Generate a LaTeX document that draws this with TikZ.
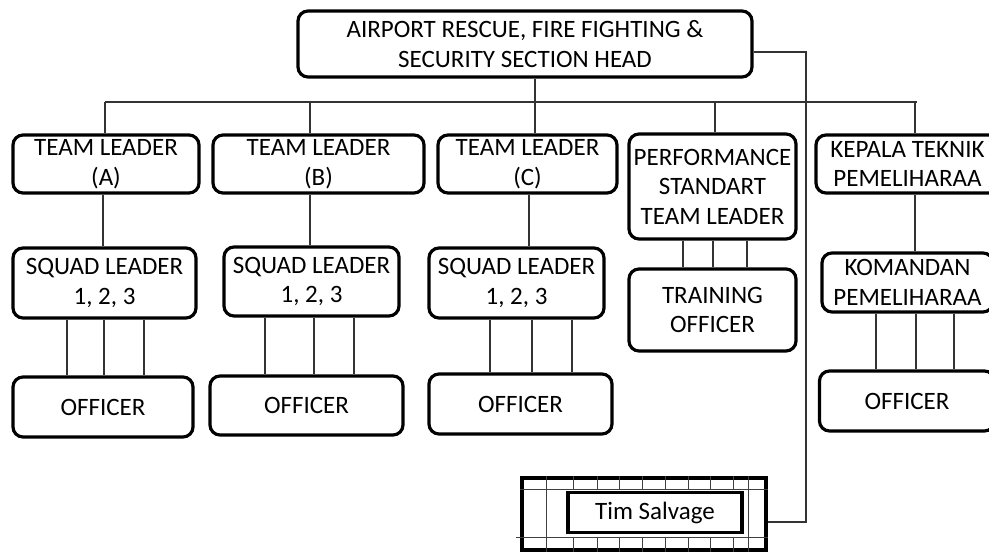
\documentclass[tikz,border=0pt]{standalone}
\usepackage{fontspec}
\setmainfont{Carlito}
\usetikzlibrary{positioning}

\begin{document}
\begin{tikzpicture}[x=1pt, y=-1pt,
    box/.style={draw, line width=3.2pt, rounded corners=10pt, align=center, inner sep=0pt,
        font=\fontsize{25}{29.5}\selectfont},
    link/.style={line width=1.2pt, black!80},
    grid/.style={line width=1pt, black!75}]
    \useasboundingbox (0,0) rectangle (989,552);
    \clip (0,0) rectangle (989,552);

    \node[box, minimum width=454pt, minimum height=66pt] (head) at (525,44) {AIRPORT RESCUE, FIRE FIGHTING \&\\SECURITY SECTION HEAD};

    \node[box, minimum width=186pt, minimum height=58pt] (tl_A) at (106,164) {TEAM LEADER\\(A)};
    \node[box, minimum width=211pt, minimum height=58pt] (tl_B) at (318.5,164) {TEAM LEADER\\(B)};
    \node[box, minimum width=179pt, minimum height=58pt] (tl_C) at (527.5,164) {TEAM LEADER\\(C)};
    \node[box, minimum width=167pt, minimum height=105pt] (perf) at (712.5,186.5) {PERFORMANCE\\STANDART\\TEAM LEADER};
    \node[box, minimum width=183pt, minimum height=58pt] (kep) at (907.5,164) {KEPALA TEKNIK\\PEMELIHARAA};

    \node[box, minimum width=183pt, minimum height=70pt] (sl_A) at (104.5,283) {SQUAD LEADER\\1, 2, 3};
    \node[box, minimum width=175pt, minimum height=69pt] (sl_B) at (311.5,281.5) {SQUAD LEADER\\1, 2, 3};
    \node[box, minimum width=175pt, minimum height=70pt] (sl_C) at (516.5,283) {SQUAD LEADER\\1, 2, 3};
    \node[box, minimum width=167pt, minimum height=82pt] (train) at (712.5,310) {TRAINING\\OFFICER};
    \node[box, minimum width=171pt, minimum height=59pt] (kom) at (907.5,282.5) {KOMANDAN\\PEMELIHARAA};

    \node[box, minimum width=180pt, minimum height=60pt] (off_A) at (103,407) {OFFICER};
    \node[box, minimum width=193pt, minimum height=59pt] (off_B) at (306.5,405.5) {OFFICER};
    \node[box, minimum width=183pt, minimum height=60pt] (off_C) at (520.5,404) {OFFICER};
    \node[box, minimum width=175pt, minimum height=60pt] (off_K) at (907,401) {OFFICER};

    % salvage team block
    \node[draw, line width=3.2pt, minimum width=244pt, minimum height=72pt] (tim_box) at (644,514) {};
    \draw[grid] (tim_box.west |- 0,489) -- (tim_box.east |- 0,489);
    \draw[grid] ([xshift=-4pt]tim_box.west |- 0,537) -- (tim_box.east |- 0,537);
    \foreach \x in {573,597,619,642,665,688,710,733} {
        \draw[grid] (\x,0 |- tim_box.north) -- (\x,489);
        \draw[grid] (\x,537) -- (\x,0 |- tim_box.south);
    }
    \foreach \x in {546,748}
        \draw[grid] (\x,0 |- tim_box.north) -- (\x,0 |- tim_box.south);
    \node[draw, fill=white, line width=3.2pt, minimum width=174pt, minimum height=40pt,
        font=\fontsize{25}{29.5}\selectfont] (tim) at (655,512.5) {Tim Salvage};

    % connectors
    \coordinate (bus) at (535,102);
    \coordinate (salv) at (806,522);
    \draw[link] (head.south -| bus) -- (bus);
    \draw[link] (105,0 |- bus) -- (917,0 |- bus);
    \foreach \n/\x in {tl_A/105, tl_B/310, tl_C/535, perf/715, kep/915}
        \draw[link] (\x,0 |- bus) -- (\x,0 |- \n.north);
    \foreach \a/\b/\x in {tl_A/sl_A/103, tl_B/sl_B/310, tl_C/sl_C/529, kep/kom/915}
        \draw[link] (\x,0 |- \a.south) -- (\x,0 |- \b.north);
    \foreach \a/\b/\xs in {sl_A/off_A/{67,104,144}, sl_B/off_B/{265,314,354},
                           sl_C/off_C/{490,532,572}, perf/train/{683,713,747},
                           kom/off_K/{876,916,954}}
        \foreach \x in \xs
            \draw[link] (\x,0 |- \a.south) -- (\x,0 |- \b.north);
    \draw[link] ([yshift=-8pt]head.east) -| (salv) -- (salv -| tim_box.east);

\end{tikzpicture}
\end{document}
